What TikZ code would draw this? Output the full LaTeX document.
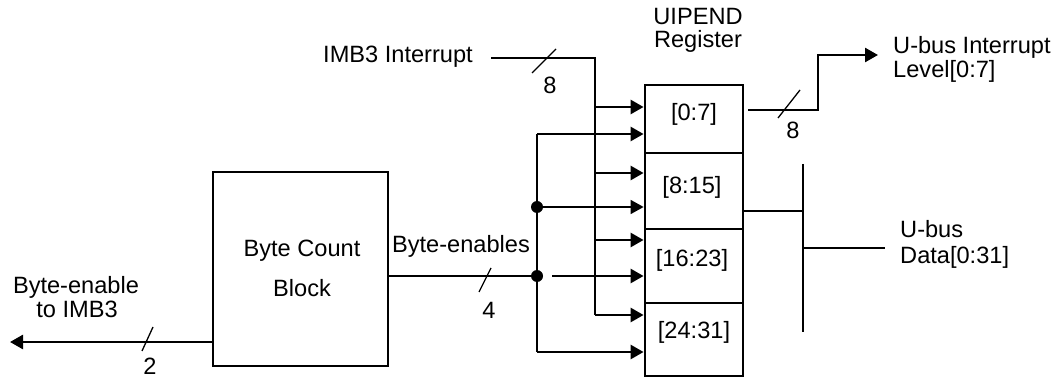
\documentclass[tikz,border=0pt]{standalone}
\usepackage{fontspec}
\setmainfont{Liberation Sans}
\usetikzlibrary{arrows.meta}
\begin{document}
\begin{tikzpicture}[x=1pt,y=-1pt,
  wire/.style={line width=2.6pt},
  thinwire/.style={line width=1.5pt},
  arr/.style={wire,-{Triangle[length=13pt,width=14pt]}},
  thinarr/.style={thinwire,-{Triangle[length=13pt,width=14pt]}},
  slash/.style={line width=1.3pt},
  lbl/.style={font=\fontsize{23.6}{23.6}\selectfont, inner sep=0pt},
  box/.style={draw, line width=2.8pt, inner sep=0pt},
  dot/.style={circle, fill, inner sep=0pt, minimum size=12pt}]
\useasboundingbox (0,0) rectangle (1057,379);

% Byte Count Block
\node[box, minimum width=175pt, minimum height=194pt] (bcb) at (300.5,269) {};
\node[lbl, anchor=base] (bcbt1) at (302,257) {Byte Count};
\node[lbl, anchor=base] (bcbt2) at (302,297) {Block};

% UIPEND register
\node[lbl, anchor=base] (uip1) at (698,25) {UIPEND};
\node[lbl, anchor=base] (uip2) at (698,48) {Register};
\node[box, minimum width=98pt, minimum height=68pt] (r1) at (694,119) {};
\node[box, minimum width=98pt, minimum height=76pt] (r2) at (694,191) {};
\node[box, minimum width=98pt, minimum height=74pt] (r3) at (694,266) {};
\node[box, minimum width=98pt, minimum height=73pt] (r4) at (694,339.5) {};
\node[lbl, anchor=base] (r1t) at (694,121) {[0:7]};
\node[lbl, anchor=base] (r2t) at (692,194) {[8:15]};
\node[lbl, anchor=base] (r3t) at (692,266) {[16:23]};
\node[lbl, anchor=base] (r4t) at (694,338) {[24:31]};

% IMB3 Interrupt input and bus 2
\node[lbl, anchor=base] (imb) at (398,63) {IMB3 Interrupt};
\coordinate (imbs) at (491,58);
\coordinate (b2top) at (595,58);
\coordinate (b2a) at (595,107);
\coordinate (b2b) at (595,173);
\coordinate (b2c) at (595,240);
\coordinate (b2d) at (595,315);
\draw[wire] (imbs) -- (b2top) -- (b2d);
\draw[arr] (b2a) -- (b2a -| r1.west);
\draw[arr] (b2b) -- (b2b -| r2.west);
\draw[arr] (b2c) -- (b2c -| r3.west);
\draw[arr] (b2d) -- (b2d -| r4.west);
\draw[slash] (532,73) -- (556,49);
\node[lbl, anchor=base] (n8a) at (550,94) {8};

% Byte-enables and bus 1
\coordinate (b1top) at (537,134);
\coordinate (b1bot) at (537,352);
\node[dot] (d1) at (537,207) {};
\node[dot] (d2) at (537,276) {};
\coordinate (b1c) at (552,276);
\draw[wire] (b1top) -- (b1bot);
\draw[arr] (b1top) -- (b1top -| r1.west);
\draw[thinarr] (d1) -- (d1 -| r2.west);
\draw[arr] (b1c) -- (b1c -| r3.west);
\draw[arr] (b1bot) -- (b1bot -| r4.west);
\draw[wire] (bcb.east |- d2) -- (d2);
\draw[slash] (479,292) -- (491,268);
\node[lbl, anchor=base] (be) at (461,253) {Byte-enables};
\node[lbl, anchor=base] (n4) at (489,318) {4};

% Byte-enable to IMB3
\coordinate (bel) at (213,342);
\coordinate (bet) at (10,342);
\draw[arr] (bel) -- (bet);
\draw[slash] (142,351) -- (153,327);
\node[lbl, anchor=base] (ben1) at (76,294) {Byte-enable};
\node[lbl, anchor=base] (ben2) at (77,317) {to IMB3};
\node[lbl, anchor=base] (n2) at (150,374.5) {2};

% U-bus Interrupt Level output
\coordinate (o1) at (748,110);
\coordinate (o2) at (818,110);
\coordinate (o3) at (818,55);
\coordinate (o4) at (878,55);
\draw[arr] (o1) -- (o2) -- (o3) -- (o4);
\draw[slash] (778,118) -- (800,90);
\node[lbl, anchor=base] (n8b) at (793,139) {8};
\node[lbl, anchor=base west] (ui1) at (893,54) {U-bus Interrupt};
\node[lbl, anchor=base west] (ui2) at (893,78) {Level[0:7]};

% U-bus Data
\coordinate (ud1) at (r2.east |- 0,211);
\coordinate (ud2) at (803,211);
\coordinate (udt) at (803,164);
\coordinate (udb) at (803,332);
\coordinate (udm) at (803,248);
\coordinate (ude) at (885,248);
\draw[wire] (ud1) -- (ud2);
\draw[wire] (udt) -- (udb);
\draw[wire] (udm) -- (ude);
\node[lbl, anchor=base west] (ud1t) at (900,238) {U-bus};
\node[lbl, anchor=base west] (ud2t) at (900,264) {Data[0:31]};
\end{tikzpicture}
\end{document}
